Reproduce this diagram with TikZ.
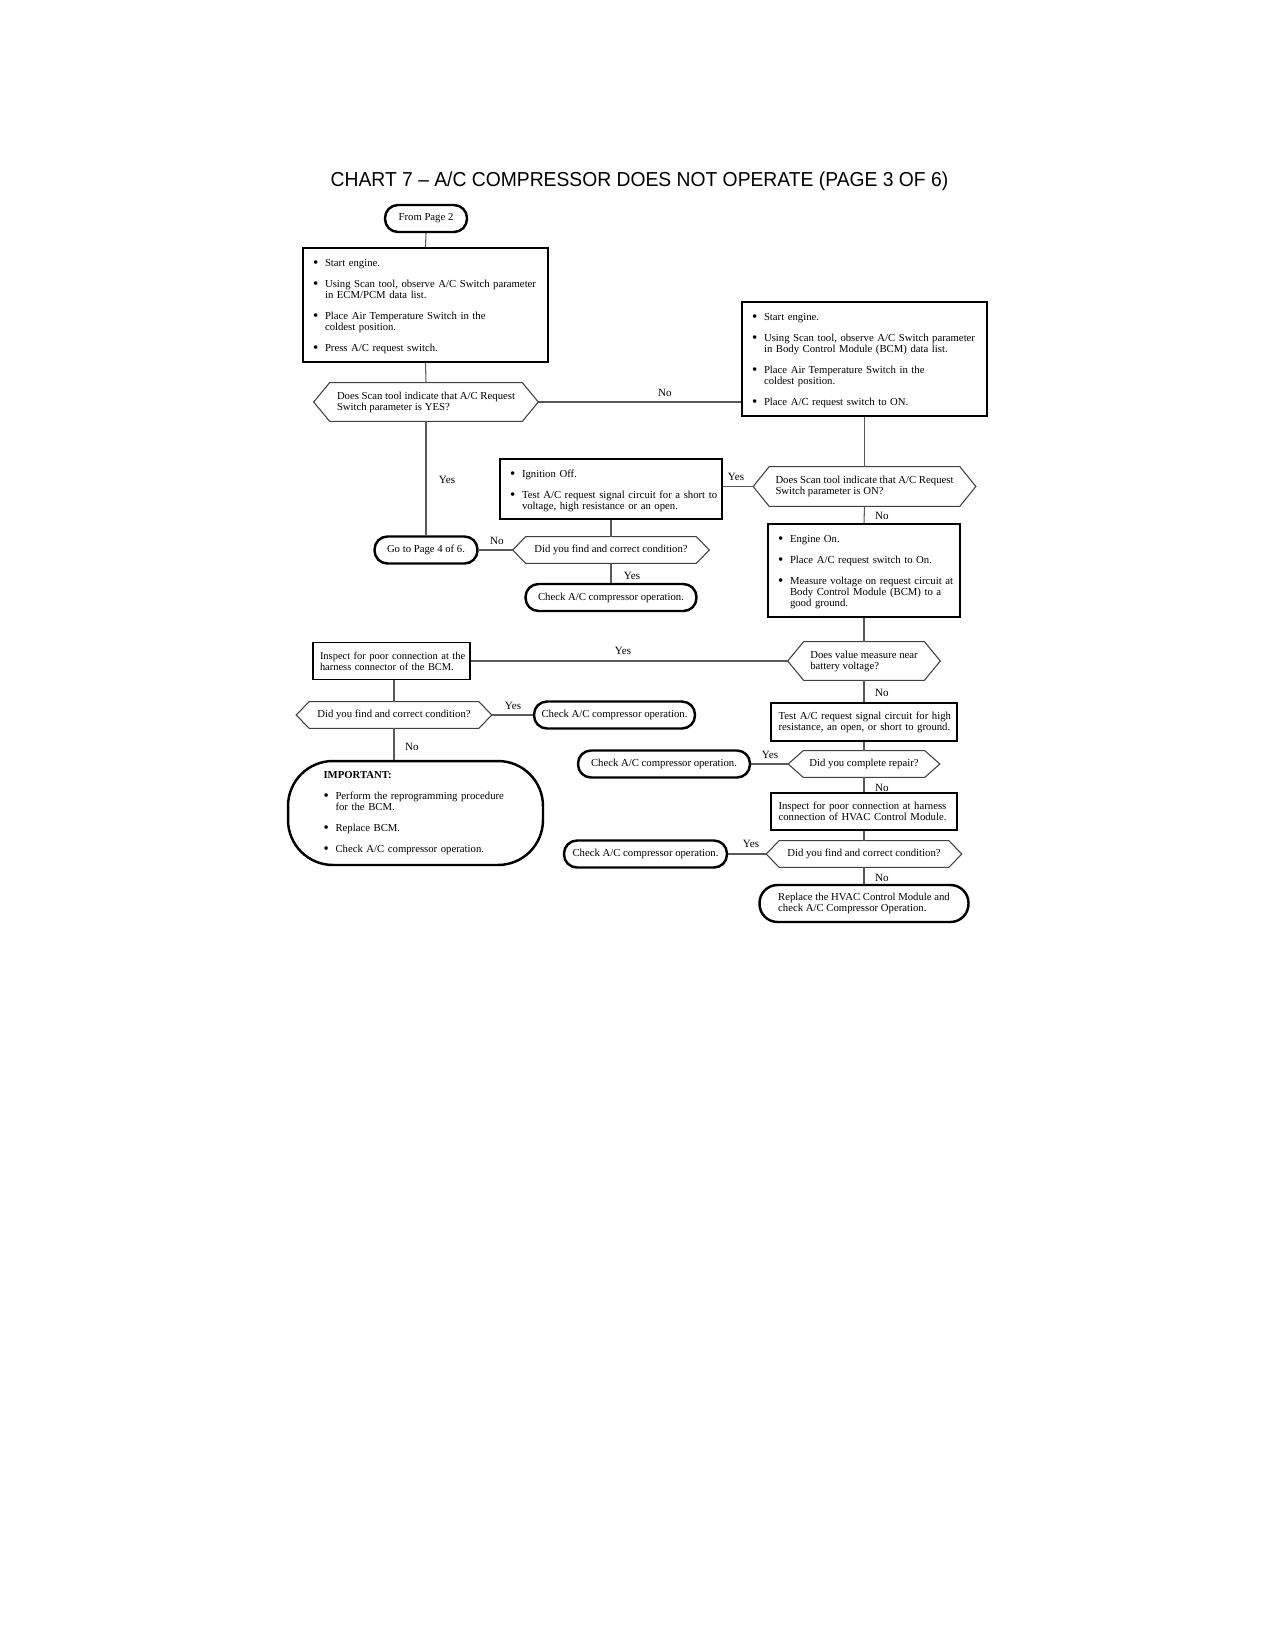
\documentclass[tikz,border=0pt]{standalone}
\usepackage{fontspec}
\usepackage{graphicx}
\setmainfont{Liberation Serif}
\newfontfamily\titlefont{Liberation Sans}
\hfuzz=200pt
\hbadness=10000
\newlength\bulind
\setlength\bulind{0.24cm}
\newcommand\nb[1]{\mbox{#1}}
\newcommand\bigbul{\raisebox{-0.45pt}{\fontsize{8.5}{8.5}\selectfont\textbullet}}
\newcommand\blt[1]{\par\hangindent=\bulind\hangafter=1\noindent\makebox[\bulind][l]{\bigbul}#1\par}
\newcommand\igap{\par\vspace{5.6pt}}
\newcommand\drawhex[2]{\draw[hexline] (#1.west) -- ([xshift=#2]#1.north west) -- ([xshift=-#2]#1.north east) -- (#1.east) -- ([xshift=-#2]#1.south east) -- ([xshift=#2]#1.south west) -- cycle;}
\tikzset{
  base/.style={font=\fontsize{6.1}{6.3}\selectfont, inner sep=0pt},
  rbox/.style={base, draw, line width=1.1pt, inner xsep=0.2cm, align=left},
  sbox/.style={base, draw, line width=1.1pt, inner xsep=0.15cm, align=left},
  term/.style={base, draw, line width=1.4pt, rounded corners=0.26cm, align=left},
  dec/.style={base, align=left},
  hexline/.style={draw=black!75, line width=0.6pt},
  conn/.style={draw=black!65, line width=0.6pt},
  lab/.style={font=\fontsize{6.3}{6.5}\selectfont, inner sep=0pt},
}
\begin{document}
\begin{tikzpicture}[x=0.02cm, y=-0.02cm]
\fill[white] (0,0) rectangle (1275,1650);
\useasboundingbox (0,0) rectangle (1275,1650);

\node[font=\titlefont\fontsize{11.5}{13}\selectfont, inner sep=0pt] (title) at (639.5,181) {\scalebox{0.955}[1]{CHART 7 – A/C COMPRESSOR DOES NOT OPERATE (PAGE 3 OF 6)}};

% left column top
\node[term, minimum width=1.64cm, minimum height=0.54cm] (start) at (426,218.5) {From Page 2};
\node[rbox, minimum width=4.9cm, minimum height=2.28cm, text width=4.5cm] (box1) at (425.5,305) {%
\blt{\nb{Start engine.}}\igap
\blt{\nb{Using Scan tool, observe A/C Switch parameter}\newline\nb{in ECM/PCM data list.}}\igap
\blt{\nb{Place Air Temperature Switch in the}\newline\nb{coldest position.}}\igap
\blt{\nb{Press A/C request switch.}}};
\node[dec, minimum width=4.48cm, minimum height=0.76cm] (dec1) at (426,402) {Does Scan tool indicate that A/C Request\\Switch parameter is YES?};
\drawhex{dec1}{0.32cm}

% right column top
\node[rbox, minimum width=4.9cm, minimum height=2.28cm, text width=4.5cm] (box2) at (864.5,359) {%
\blt{\nb{Start engine.}}\igap
\blt{\nb{Using Scan tool, observe A/C Switch parameter}\newline\nb{in Body Control Module (BCM) data list.}}\igap
\blt{\nb{Place Air Temperature Switch in the}\newline\nb{coldest position.}}\igap
\blt{\nb{Place A/C request switch to ON.}}};
\node[dec, minimum width=4.44cm, minimum height=0.78cm] (dec2) at (864.5,486.5) {Does Scan tool indicate that A/C Request\\Switch parameter is ON?};
\drawhex{dec2}{0.32cm}

% middle
\node[rbox, minimum width=4.44cm, minimum height=1.2cm, text width=4.04cm] (box3) at (611,489) {%
\blt{\nb{Ignition Off.}}\igap
\blt{\nb{Test A/C request signal circuit for a short to}\newline\nb{voltage, high resistance or an open.}}};
\node[term, minimum width=2.06cm, minimum height=0.54cm] (goto4) at (426,550) {Go to Page 4 of 6.};
\node[dec, minimum width=3.92cm, minimum height=0.52cm] (dec3) at (611,550) {Did you find and correct condition?};
\drawhex{dec3}{0.26cm}
\node[term, minimum width=3.42cm, minimum height=0.54cm] (check1) at (611,597.5) {Check A/C compressor operation.};

% right middle
\node[rbox, minimum width=3.84cm, minimum height=1.86cm, text width=3.44cm] (box4) at (864,570.5) {%
\blt{\nb{Engine On.}}\igap
\blt{\nb{Place A/C request switch to On.}}\igap
\blt{\nb{Measure voltage on request circuit at}\newline\nb{Body Control Module (BCM) to a}\newline\nb{good ground.}}};
\node[dec, minimum width=3.04cm, minimum height=0.76cm] (dec4) at (864,661) {Does value measure near\\battery voltage?};
\drawhex{dec4}{0.32cm}

% left lower
\node[sbox, font=\fontsize{5.95}{6.3}\selectfont, inner xsep=0.14cm, minimum width=3.14cm, minimum height=0.74cm, text width=2.86cm] (insp1) at (391.5,661) {\nb{Inspect for poor connection at the}\newline\nb{harness connector of the BCM.}};
\node[dec, minimum width=3.9cm, minimum height=0.52cm] (dec5) at (394,715) {Did you find and correct condition?};
\drawhex{dec5}{0.26cm}
\node[term, minimum width=3.22cm, minimum height=0.54cm] (check2) at (614.5,715) {Check A/C compressor operation.};
\node[term, minimum width=5.1cm, minimum height=2.08cm, rounded corners=0.9cm, inner xsep=0.71cm, text width=3.68cm] (imp) at (415.5,813) {%
\noindent\textbf{IMPORTANT:}\par\vspace{6pt}
\blt{\nb{Perform the reprogramming procedure}\newline\nb{for the BCM.}}\igap
\blt{\nb{Replace BCM.}}\igap
\blt{\nb{Check A/C compressor operation.}}};

% right lower
\node[sbox, minimum width=3.72cm, minimum height=0.76cm, text width=3.42cm] (test) at (864,722) {\nb{Test A/C request signal circuit for high}\newline\nb{resistance, an open, or short to ground.}};
\node[dec, minimum width=3.02cm, minimum height=0.52cm] (dec6) at (864,764) {Did you complete repair?};
\drawhex{dec6}{0.3cm}
\node[term, minimum width=3.44cm, minimum height=0.54cm] (check3) at (664,764) {Check A/C compressor operation.};
\node[sbox, minimum width=3.72cm, minimum height=0.74cm, text width=3.42cm] (insp2) at (864,811.5) {\nb{Inspect for poor connection at harness}\newline\nb{connection of HVAC Control Module.}};
\node[dec, minimum width=3.9cm, minimum height=0.52cm] (dec7) at (864,854) {Did you find and correct condition?};
\drawhex{dec7}{0.26cm}
\node[term, minimum width=3.26cm, minimum height=0.54cm] (check4) at (645.5,854) {Check A/C compressor operation.};
\node[term, minimum width=4.18cm, minimum height=0.74cm, rounded corners=0.36cm] (repl) at (864,903.5) {Replace the HVAC Control Module and\\check A/C Compressor Operation.};

% connectors
\draw[conn] (start.south) -- (box1.north);
\draw[conn] (box1.south) -- (dec1.north);
\draw[conn] (dec1.east) -- (dec1.east -| box2.west);
\draw[conn] (box2.south) -- (dec2.north);
\draw[conn] (dec2.west) -- (dec2.west -| box3.east);
\draw[conn] (dec1.south) -- (goto4.north);
\draw[conn] (box3.south) -- (dec3.north);
\draw[conn] (dec3.west) -- (goto4.east);
\draw[conn] (dec3.south) -- (check1.north);
\draw[conn] (dec2.south) -- (box4.north);
\draw[conn] (box4.south) -- (dec4.north);
\draw[conn] (dec4.west) -- (dec4.west -| insp1.east);
\draw[conn] (dec5.north |- insp1.south) -- (dec5.north);
\draw[conn] (dec5.east) -- (check2.west);
\draw[conn] (dec5.south) -- (dec5.south |- imp.north);
\draw[conn] (dec4.south) -- (test.north);
\draw[conn] (test.south) -- (dec6.north);
\draw[conn] (dec6.west) -- (check3.east);
\draw[conn] (dec6.south) -- (insp2.north);
\draw[conn] (insp2.south) -- (dec7.north);
\draw[conn] (dec7.west) -- (check4.east);
\draw[conn] (dec7.south) -- (repl.north);

% labels
\node[lab] (l1) at (665,393) {No};
\node[lab] (l2) at (736,477) {Yes};
\node[lab] (l3) at (447,480) {Yes};
\node[lab] (l4) at (497,541) {No};
\node[lab] (l5) at (632,576) {Yes};
\node[lab] (l6) at (882,516) {No};
\node[lab] (l7) at (623,651) {Yes};
\node[lab] (l8) at (513,706) {Yes};
\node[lab] (l9) at (412,747) {No};
\node[lab] (l10) at (882,693) {No};
\node[lab] (l11) at (770,755) {Yes};
\node[lab] (l12) at (882,788) {No};
\node[lab] (l13) at (751,844) {Yes};
\node[lab] (l14) at (882,878) {No};
\end{tikzpicture}
\end{document}
